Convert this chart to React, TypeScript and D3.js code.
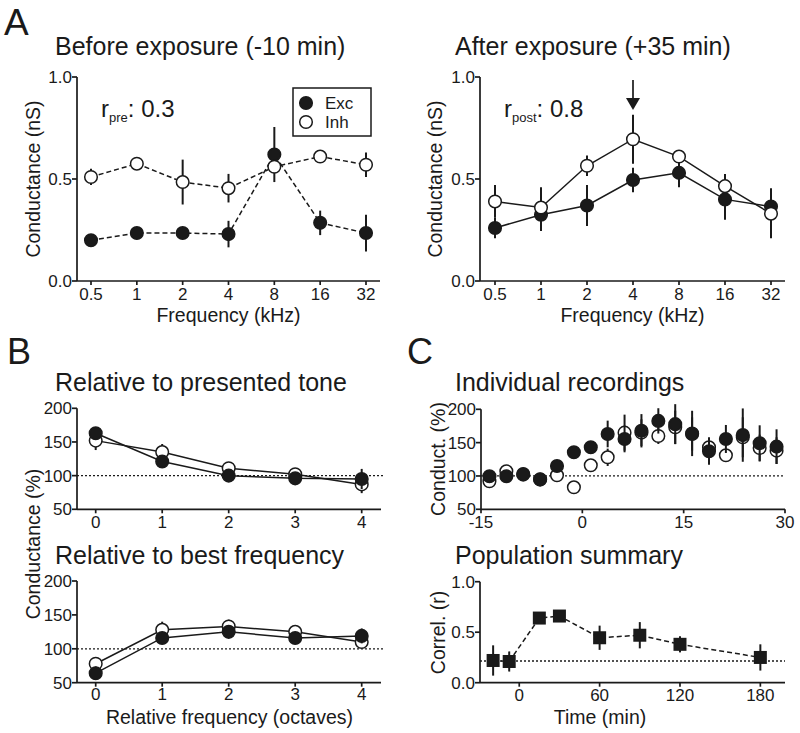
import React from 'react';
import * as d3 from 'd3';

// ---------- Panel A data ----------
const freqLabels = ['0.5', '1', '2', '4', '8', '16', '32'];
const preExc = [0.2, 0.235, 0.235, 0.23, 0.62, 0.285, 0.235];
const preExcErr = [0.02, 0.02, 0.02, 0.065, 0.135, 0.06, 0.09];
const preInh = [0.51, 0.575, 0.485, 0.455, 0.56, 0.61, 0.57];
const preInhErr = [0.04, 0.02, 0.11, 0.07, 0.03, 0.02, 0.06];
const postExc = [0.26, 0.325, 0.37, 0.495, 0.53, 0.4, 0.365];
const postExcErr = [0.05, 0.08, 0.1, 0.06, 0.07, 0.1, 0.09];
const postInh = [0.39, 0.36, 0.565, 0.695, 0.61, 0.465, 0.33];
const postInhErr = [0.08, 0.1, 0.05, 0.12, 0.03, 0.06, 0.12];
const condTicks = [0, 0.5, 1];
const bestFreqPost = '4';

// ---------- Panel B data ----------
const octaves = [0, 1, 2, 3, 4];
const toneExc = [163, 121, 100, 96, 95];
const toneExcErr = [8, 5, 4, 4, 15];
const toneInh = [152, 135, 111, 102, 87];
const toneInhErr = [14, 12, 5, 8, 13];
const bfExc = [64, 116, 125, 116, 119];
const bfExcErr = [10, 5, 5, 5, 11];
const bfInh = [78, 128, 133, 125, 110];
const bfInhErr = [5, 12, 10, 5, 7];
const pctTicks = [50, 100, 150, 200];
const pctBaseline = 100;

// ---------- Panel C data ----------
const recTimes = [-13.75, -11.25, -8.75, -6.25, -3.75, -1.25, 1.25, 3.75, 6.25, 8.75, 11.25, 13.75, 16.25, 18.75, 21.25, 23.75, 26.25, 28.75];
const recExc = [99.5, 99.5, 103, 94.5, 115, 135.5, 143, 163, 155.5, 167.8, 182.6, 177.7, 163.8, 137, 155.5, 161.3, 149, 144];
const recExcErr = [3, 3, 3, 3, 8, 4, 8, 20, 20, 25, 19, 30, 34, 20, 21, 40, 27, 26];
const recInh = [92, 107, 102, 95, 101, 83, 116, 128, 165, 165, 160, 173, 163, 143, 131, 158, 142, 138];
const recInhErr = [3, 3, 3, 3, 5, 3, 5, 13, 27, 20, 12, 25, 25, 15, 8, 30, 20, 20];
const recXTicks = [-15, 0, 15, 30];
const recXLabels = ['-15', '0', '15', '30'];
const popTimes = [-19.5, -7.5, 15, 30, 60, 90, 120, 180];
const popR = [0.22, 0.21, 0.64, 0.66, 0.445, 0.47, 0.38, 0.25];
const popErr = [0.15, 0.1, 0.03, 0.04, 0.12, 0.13, 0.08, 0.13];
const popXTicks = [0, 60, 120, 180];
const corrTicks = [0, 0.5, 1];
const popBaseline = 0.215;

const FONT = '"Liberation Sans", Arial, Helvetica, sans-serif';
const INK = '#1a1a1a';
const TICK_FS = 17;
const LABEL_FS = 19.5;
const TITLE_FS = 25;

type S = {
  xs: number[];
  vals: number[];
  errs: number[];
  filled: boolean;
  line?: boolean;
  dash?: string;
  square?: boolean;
};

function Layers({ series, y }: { series: S[]; y: (v: number) => number }) {
  return (
    <g>
      {series.map((s, si) =>
        s.line ? (
          <path
            key={'l' + si}
            d={d3.line()(s.xs.map((x, i) => [x, y(s.vals[i])] as [number, number])) || ''}
            fill="none"
            stroke={INK}
            strokeWidth={1.5}
            strokeDasharray={s.dash}
          />
        ) : null
      )}
      {series.map((s, si) => (
        <g key={'g' + si}>
          {s.xs.map((x, i) => (
            <line
              key={'e' + i}
              x1={x}
              x2={x}
              y1={y(s.vals[i] - s.errs[i])}
              y2={y(s.vals[i] + s.errs[i])}
              stroke={INK}
              strokeWidth={2}
            />
          ))}
          {s.xs.map((x, i) =>
            s.square ? (
              <rect key={'m' + i} x={x - 6.5} y={y(s.vals[i]) - 6.5} width={13} height={13} fill={INK} />
            ) : (
              <circle
                key={'m' + i}
                cx={x}
                cy={y(s.vals[i])}
                r={6.3}
                fill={s.filled ? INK : '#fff'}
                stroke={INK}
                strokeWidth={1.5}
              />
            )
          )}
        </g>
      ))}
    </g>
  );
}

function YAxis({ x, y, ticks, fmt }: { x: number; y: d3.ScaleLinear<number, number>; ticks: number[]; fmt: (v: number) => string }) {
  const [r0, r1] = y.range();
  return (
    <g>
      <line x1={x} x2={x} y1={r1} y2={r0} stroke={INK} strokeWidth={1.7} />
      {ticks.map((t) => (
        <g key={t}>
          <line x1={x - 5} x2={x} y1={y(t)} y2={y(t)} stroke={INK} strokeWidth={1.7} />
          <text x={x - 5} y={y(t) + 6} textAnchor="end" fontSize={TICK_FS}>
            {fmt(t)}
          </text>
        </g>
      ))}
    </g>
  );
}

function XAxis({ y, x0, x1, pos, labels, labelY }: { y: number; x0: number; x1: number; pos: number[]; labels: string[]; labelY: number }) {
  return (
    <g>
      <line x1={x0} x2={x1} y1={y} y2={y} stroke={INK} strokeWidth={1.7} />
      {pos.map((p, i) => (
        <g key={i}>
          <line x1={p} x2={p} y1={y} y2={y + 4} stroke={INK} strokeWidth={1.7} />
          <text x={p} y={labelY} textAnchor="middle" fontSize={TICK_FS}>
            {labels[i]}
          </text>
        </g>
      ))}
    </g>
  );
}

function YLabel({ x, y, text }: { x: number; y: number; text: string }) {
  return (
    <text transform={`translate(${x},${y}) rotate(-90)`} textAnchor="middle" fontSize={LABEL_FS}>
      {text}
    </text>
  );
}

export default function App() {
  const f1 = d3.format('.1f');
  const fi = d3.format('d');

  // scales
  const aLx = d3.scalePoint<string>().domain(freqLabels).range([91, 366]);
  const aRx = d3.scalePoint<string>().domain(freqLabels).range([495, 771]);
  const aY = d3.scaleLinear().domain([0, 1]).range([281, 77]);
  const bX = d3.scaleLinear().domain([0, 4]).range([95.7, 361.7]);
  const bTopY = d3.scaleLinear().domain([50, 200]).range([509.3, 408.3]);
  const bBotY = d3.scaleLinear().domain([50, 200]).range([682.7, 581]);
  const cTopX = d3.scaleLinear().domain([-15, 30]).range([481, 785]);
  const cTopY = d3.scaleLinear().domain([50, 200]).range([509.3, 409.3]);
  const cBotX = d3.scaleLinear().domain([-29.3, 198.4]).range([480, 785]);
  const cBotY = d3.scaleLinear().domain([0, 1]).range([682.7, 581.7]);

  const aLxs = freqLabels.map((f) => aLx(f) as number);
  const aRxs = freqLabels.map((f) => aRx(f) as number);
  const bXs = octaves.map((o) => bX(o));
  const arrowX = aRx(bestFreqPost) as number;

  return (
    <svg
      width={800}
      height={733}
      style={{ position: 'absolute', left: 0, top: 0, background: '#fff' }}
      fontFamily={FONT}
      fill={INK}
    >
      <rect x={0} y={0} width={800} height={733} fill="#fff" />

      {/* ---------- Panel A ---------- */}
      <text x={4} y={35} fontSize={37}>A</text>
      <text x={55} y={54.5} fontSize={TITLE_FS}>Before exposure (-10 min)</text>
      <text x={455} y={54.5} fontSize={TITLE_FS}>After exposure (+35 min)</text>

      {/* left */}
      <YAxis x={77} y={aY} ticks={condTicks} fmt={f1} />
      <XAxis y={281} x0={77} x1={380} pos={aLxs} labels={freqLabels} labelY={300} />
      <YLabel x={40} y={179} text="Conductance (nS)" />
      <text x={228.5} y={322} textAnchor="middle" fontSize={LABEL_FS}>Frequency (kHz)</text>
      <text x={101} y={117} fontSize={24}>
        r<tspan fontSize={13} dy={5}>pre</tspan>
        <tspan dy={-5}>: 0.3</tspan>
      </text>
      <Layers
        y={aY}
        series={[
          { xs: aLxs, vals: preExc, errs: preExcErr, filled: true, line: true, dash: '5,3' },
          { xs: aLxs, vals: preInh, errs: preInhErr, filled: false, line: true, dash: '5,3' },
        ]}
      />
      <rect x={293} y={88} width={78} height={48} fill="none" stroke={INK} strokeWidth={1.5} />
      <circle cx={306} cy={103} r={6.3} fill={INK} stroke={INK} strokeWidth={1.5} />
      <circle cx={306} cy={122} r={6.3} fill="#fff" stroke={INK} strokeWidth={1.5} />
      <text x={325} y={109} fontSize={17}>Exc</text>
      <text x={325} y={128} fontSize={17}>Inh</text>

      {/* right */}
      <YAxis x={480} y={aY} ticks={condTicks} fmt={f1} />
      <XAxis y={281} x0={480} x1={785} pos={aRxs} labels={freqLabels} labelY={300} />
      <YLabel x={441.5} y={179} text="Conductance (nS)" />
      <text x={632.5} y={322} textAnchor="middle" fontSize={LABEL_FS}>Frequency (kHz)</text>
      <text x={504} y={117} fontSize={24}>
        r<tspan fontSize={13} dy={5}>post</tspan>
        <tspan dy={-5}>: 0.8</tspan>
      </text>
      <Layers
        y={aY}
        series={[
          { xs: aRxs, vals: postExc, errs: postExcErr, filled: true, line: true },
          { xs: aRxs, vals: postInh, errs: postInhErr, filled: false, line: true },
        ]}
      />
      <line x1={arrowX} x2={arrowX} y1={80} y2={99} stroke={INK} strokeWidth={1.7} />
      <path d={`M${arrowX - 7},98 L${arrowX + 7},98 L${arrowX},110 Z`} fill={INK} />

      {/* ---------- Panel B ---------- */}
      <text x={7} y={364} fontSize={36}>B</text>
      <text x={55} y={391} fontSize={TITLE_FS}>Relative to presented tone</text>
      <text x={55} y={563.5} fontSize={TITLE_FS}>Relative to best frequency</text>
      <YLabel x={40} y={544} text="Conductance (%)" />

      <YAxis x={77} y={bTopY} ticks={pctTicks} fmt={fi} />
      <XAxis y={509.3} x0={77} x1={381} pos={bXs} labels={octaves.map(String)} labelY={527.5} />
      <line x1={77} x2={385} y1={bTopY(pctBaseline)} y2={bTopY(pctBaseline)} stroke={INK} strokeWidth={1.3} strokeDasharray="2,2" />
      <Layers
        y={bTopY}
        series={[
          { xs: bXs, vals: toneInh, errs: toneInhErr, filled: false, line: true },
          { xs: bXs, vals: toneExc, errs: toneExcErr, filled: true, line: true },
        ]}
      />

      <YAxis x={77} y={bBotY} ticks={pctTicks} fmt={fi} />
      <XAxis y={682.7} x0={77} x1={381} pos={bXs} labels={octaves.map(String)} labelY={700} />
      <line x1={77} x2={385} y1={bBotY(pctBaseline)} y2={bBotY(pctBaseline)} stroke={INK} strokeWidth={1.3} strokeDasharray="2,2" />
      <Layers
        y={bBotY}
        series={[
          { xs: bXs, vals: bfInh, errs: bfInhErr, filled: false, line: true },
          { xs: bXs, vals: bfExc, errs: bfExcErr, filled: true, line: true },
        ]}
      />
      <text x={229.5} y={723.5} textAnchor="middle" fontSize={LABEL_FS}>Relative frequency (octaves)</text>

      {/* ---------- Panel C ---------- */}
      <text x={407} y={364} fontSize={36}>C</text>
      <text x={455} y={391} fontSize={TITLE_FS}>Individual recordings</text>
      <text x={455} y={563.5} fontSize={TITLE_FS}>Population summary</text>

      <YAxis x={481} y={cTopY} ticks={pctTicks} fmt={fi} />
      <XAxis y={509.3} x0={481} x1={785} pos={recXTicks.map((t) => cTopX(t))} labels={recXLabels} labelY={527.5} />
      <YLabel x={445} y={459} text="Conduct. (%)" />
      <line x1={481} x2={785} y1={cTopY(pctBaseline)} y2={cTopY(pctBaseline)} stroke={INK} strokeWidth={1.3} strokeDasharray="2,2" />
      <Layers
        y={cTopY}
        series={[
          { xs: recTimes.map((t) => cTopX(t)), vals: recInh, errs: recInhErr, filled: false },
          { xs: recTimes.map((t) => cTopX(t)), vals: recExc, errs: recExcErr, filled: true },
        ]}
      />

      <YAxis x={480} y={cBotY} ticks={corrTicks} fmt={f1} />
      <XAxis y={682.7} x0={480} x1={785} pos={popXTicks.map((t) => cBotX(t))} labels={popXTicks.map(String)} labelY={701} />
      <YLabel x={445} y={632.5} text="Correl. (r)" />
      <line x1={480} x2={785} y1={cBotY(popBaseline)} y2={cBotY(popBaseline)} stroke={INK} strokeWidth={1.3} strokeDasharray="2,2" />
      <Layers
        y={cBotY}
        series={[{ xs: popTimes.map((t) => cBotX(t)), vals: popR, errs: popErr, filled: true, line: true, dash: '5,3', square: true }]}
      />
      <text x={600} y={723.5} textAnchor="middle" fontSize={LABEL_FS}>Time (min)</text>
    </svg>
  );
}
